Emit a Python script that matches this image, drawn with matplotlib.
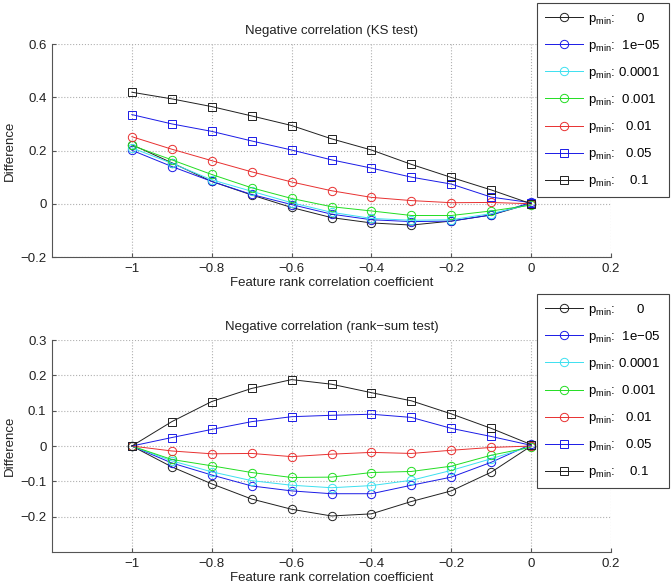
import matplotlib
matplotlib.use('Agg')
import matplotlib.pyplot as plt

plt.rcParams['font.family'] = ['Liberation Sans', 'DejaVu Sans']
plt.rcParams['mathtext.fontset'] = 'custom'
plt.rcParams['mathtext.rm'] = 'Liberation Sans'
plt.rcParams['mathtext.it'] = 'Liberation Sans:italic'

# coeficientes de correlação (eixo x)
rho = [-1.0, -0.9, -0.8, -0.7, -0.6, -0.5, -0.4, -0.3, -0.2, -0.1, 0.0]

# p_min de cada curva
pmin_labels = ['0', '1e\u221205', '0.0001', '0.001', '0.01', '0.05', '0.1']

# KS test
ks_0 = [0.222, 0.154, 0.084, 0.033, -0.014, -0.052, -0.072, -0.080, -0.065, -0.042, 0.001]
ks_1e5 = [0.201, 0.140, 0.084, 0.035, -0.003, -0.039, -0.060, -0.067, -0.065, -0.042, 0.005]
ks_1e4 = [0.210, 0.152, 0.090, 0.047, 0.004, -0.032, -0.055, -0.062, -0.060, -0.037, -0.002]
ks_1e3 = [0.219, 0.165, 0.110, 0.060, 0.020, -0.011, -0.027, -0.044, -0.044, -0.027, -0.005]
ks_1e2 = [0.252, 0.205, 0.162, 0.120, 0.082, 0.049, 0.024, 0.012, 0.004, 0.005, 0.000]
ks_5e2 = [0.335, 0.300, 0.272, 0.236, 0.202, 0.165, 0.134, 0.100, 0.074, 0.025, 0.004]
ks_1e1 = [0.419, 0.394, 0.365, 0.330, 0.294, 0.244, 0.202, 0.148, 0.099, 0.052, 0.000]

# rank-sum test
rs_0 = [0.0, -0.059, -0.107, -0.150, -0.179, -0.198, -0.192, -0.157, -0.127, -0.074, 0.0]
rs_1e5 = [0.0, -0.048, -0.082, -0.113, -0.127, -0.135, -0.135, -0.111, -0.088, -0.046, 0.005]
rs_1e4 = [0.0, -0.042, -0.073, -0.098, -0.111, -0.118, -0.112, -0.097, -0.069, -0.036, -0.001]
rs_1e3 = [0.0, -0.038, -0.056, -0.075, -0.089, -0.088, -0.075, -0.072, -0.057, -0.026, -0.003]
rs_1e2 = [0.0, -0.014, -0.022, -0.021, -0.030, -0.023, -0.018, -0.021, -0.012, -0.004, 0.0]
rs_5e2 = [0.0, 0.024, 0.047, 0.069, 0.083, 0.087, 0.090, 0.081, 0.050, 0.027, 0.002]
rs_1e1 = [0.0, 0.069, 0.126, 0.163, 0.188, 0.175, 0.151, 0.128, 0.091, 0.050, 0.004]

cores = ['#202020', '#1a1ae6', '#3ce0f0', '#22dd22', '#e83030', '#1a1ae6', '#202020']
marcadores = ['o', 'o', 'o', 'o', 'o', 's', 's']

# espaços para "centralizar" os valores na legenda
pads = [5, 1, 0, 1, 2, 2, 3]
rotulos = ['p$_{\\mathrm{min}}$:' + ' ' * (p + 1) + v for p, v in zip(pads, pmin_labels)]

fig = plt.figure(figsize=(6.71, 5.88), dpi=100)


def painel(rect, series, titulo, ylim, yticks, leg_top):
    ax = fig.add_axes(rect)
    for ys, c, m, lab in zip(series, cores, marcadores, rotulos):
        ax.plot(rho, ys, color=c, marker=m, markersize=6, markerfacecolor='none',
                markeredgewidth=0.7, linewidth=0.7, label=lab)
    ax.set_xlim(-1.2, 0.2)
    ax.set_ylim(*ylim)
    ax.set_xticks([-1, -0.8, -0.6, -0.4, -0.2, 0, 0.2])
    ax.set_xticklabels(['\u22121', '\u22120.8', '\u22120.6', '\u22120.4', '\u22120.2', '0', '0.2'])
    ax.set_yticks(yticks)
    ax.set_yticklabels([('\u2212' + f'{abs(t):g}') if t < 0 else f'{t:g}' for t in yticks])
    ax.grid(True, linestyle=':', color='#b0b0b0', linewidth=0.8)
    ax.spines['top'].set_visible(False)
    ax.spines['right'].set_visible(False)
    for s in ['left', 'bottom']:
        ax.spines[s].set_color('#555555')
    ax.tick_params(direction='in', length=3, colors='#555555', labelcolor='#222222',
                   labelsize=9.5, pad=4)
    ax.set_title(titulo, fontsize=9.5, color='#222222', pad=7)
    ax.set_xlabel('Feature rank correlation coefficient', fontsize=9.5, color='#222222', labelpad=2)
    ax.set_ylabel('Difference', fontsize=9.5, color='#222222', labelpad=3)
    leg = ax.legend(loc='upper left', bbox_to_anchor=(0.800, leg_top),
                    bbox_transform=fig.transFigure, borderaxespad=0, fontsize=9.5,
                    fancybox=False, edgecolor='#444444', framealpha=1,
                    handlelength=2.9, handletextpad=0.4, labelspacing=0.84,
                    borderpad=0.6)
    leg.get_frame().set_linewidth(0.8)
    return ax


painel([0.0775, 0.5629, 0.8331, 0.3622],
       [ks_0, ks_1e5, ks_1e4, ks_1e3, ks_1e2, ks_5e2, ks_1e1],
       'Negative correlation (KS test)', (-0.2, 0.6), [-0.2, 0, 0.2, 0.4, 0.6], 0.995)

painel([0.0775, 0.0612, 0.8331, 0.3605],
       [rs_0, rs_1e5, rs_1e4, rs_1e3, rs_1e2, rs_5e2, rs_1e1],
       'Negative correlation (rank\u2212sum test)', (-0.3, 0.3),
       [-0.2, -0.1, 0, 0.1, 0.2, 0.3], 0.5)

fig.savefig('out.png', dpi=100)
